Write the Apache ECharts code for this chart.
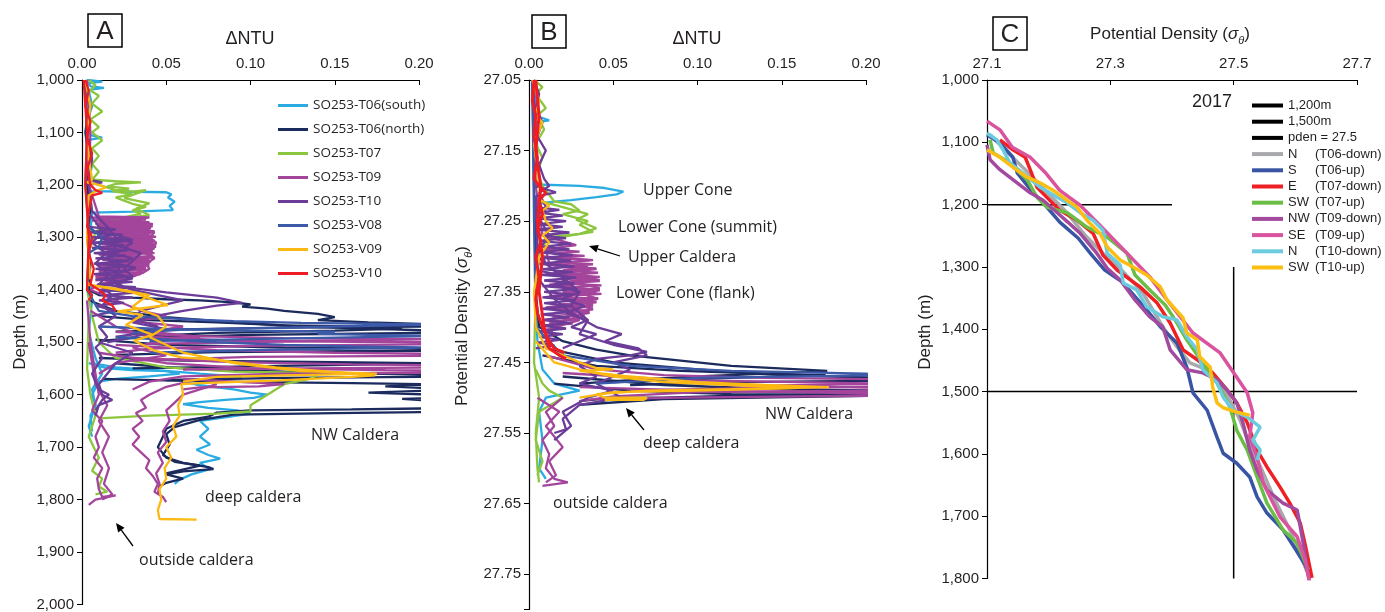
<!DOCTYPE html>
<html>
<head>
<meta charset="utf-8">
<script src="https://cdn.jsdelivr.net/npm/echarts@6/dist/echarts.min.js"></script>
<style>
  html, body { margin: 0; padding: 0; background: #fff; }
  #chart { width: 1385px; height: 612px; }
</style>
</head>
<body>
<div id="chart"></div>
<script>
// ---- panel A : dNTU vs depth (m) ----
const aT06s1 = [[0.003,1000],[0.012,1003],[0.004,1006],[0.005,1012],[0.013,1015],[0.004,1019],[0.006,1050],[0.003,1080],[0.005,1105],[0.012,1110],[0.004,1114],[0.006,1160],[0.004,1200],[0.005,1212],[0.05,1214],[0.053,1218],[0.051,1224],[0.055,1232],[0.052,1240],[0.054,1248],[0.03,1251],[0.006,1253],[0.005,1290],[0.004,1350],[0.006,1420],[0.004,1480],[0.008,1530],[0.012,1560],[0.006,1590],[0.008,1620],[0.004,1660],[0.006,1680]];
const aT06s2 = [[0.006,1540],[0.02,1548],[0.04,1552],[0.055,1556],[0.07,1560],[0.095,1566],[0.08,1570],[0.06,1575],[0.07,1582],[0.09,1590],[0.1,1596],[0.11,1600],[0.102,1606],[0.085,1610],[0.07,1614],[0.06,1618],[0.075,1625],[0.092,1630],[0.1,1636],[0.088,1642],[0.07,1650],[0.075,1665],[0.07,1680],[0.076,1695],[0.068,1705],[0.075,1715],[0.082,1722],[0.07,1730],[0.076,1742],[0.065,1752],[0.058,1762],[0.055,1770]];
const aT06s3 = [[0.004,1540],[0.015,1550],[0.03,1553],[0.05,1555],[0.058,1560],[0.04,1565],[0.02,1570],[0.01,1575],[0.006,1600],[0.008,1620],[0.005,1640],[0.006,1670]];
const aT06n1 = [[0.002,1000],[0.004,1050],[0.002,1100],[0.004,1150],[0.003,1200],[0.005,1250],[0.003,1300],[0.005,1350],[0.004,1400],[0.01,1410],[0.03,1415],[0.05,1418],[0.07,1420],[0.09,1424],[0.1,1428],[0.095,1432],[0.11,1436],[0.12,1440],[0.14,1446],[0.15,1452],[0.14,1458],[0.17,1462],[0.21,1466],[0.21,1470],[0.12,1472],[0.05,1476],[0.02,1480]];
const aT06n2 = [[0.004,1420],[0.02,1440],[0.05,1452],[0.09,1462],[0.13,1470],[0.17,1474],[0.21,1478],[0.21,1482],[0.1,1486],[0.03,1492],[0.01,1498]];
const aT06n3 = [[0.008,1495],[0.05,1505],[0.12,1510],[0.21,1512],[0.21,1516],[0.08,1519],[0.02,1524]];
const aT06n4 = [[0.01,1530],[0.06,1535],[0.15,1538],[0.21,1540],[0.21,1543],[0.1,1546],[0.03,1550]];
const aT06n5 = [[0.012,1570],[0.08,1575],[0.16,1578],[0.21,1580],[0.18,1584],[0.21,1588],[0.21,1592],[0.17,1596],[0.21,1600],[0.21,1606],[0.19,1608],[0.21,1612]];
const aT06n6 = [[0.21,1626],[0.16,1628],[0.1,1630],[0.08,1634],[0.075,1642],[0.06,1650],[0.05,1665],[0.048,1680],[0.045,1700],[0.05,1720],[0.06,1730],[0.075,1738],[0.078,1742],[0.06,1746],[0.05,1752],[0.06,1760],[0.05,1768],[0.046,1775]];
const aT06n7 = [[0.21,1633],[0.15,1635],[0.09,1638],[0.07,1648],[0.055,1662],[0.05,1675],[0.052,1695],[0.048,1715],[0.055,1728],[0.07,1735],[0.05,1750]];
const aT06n8 = [[0.01,1450],[0.04,1458],[0.08,1462],[0.12,1468],[0.16,1470],[0.19,1474],[0.15,1478],[0.08,1482],[0.04,1488]];
const aT06n9 = [[0.02,1540],[0.07,1552],[0.12,1556],[0.17,1560],[0.21,1562],[0.21,1566],[0.12,1568],[0.05,1572]];
const aT07a = [[0.004,1000],[0.008,1010],[0.005,1020],[0.01,1030],[0.006,1045],[0.012,1060],[0.005,1075],[0.01,1090],[0.006,1100],[0.012,1115],[0.006,1130],[0.01,1145],[0.006,1160],[0.01,1175],[0.006,1190],[0.02,1193],[0.035,1195],[0.02,1198],[0.015,1203],[0.028,1207],[0.018,1212],[0.03,1218],[0.02,1224],[0.025,1230],[0.03,1236],[0.038,1242],[0.03,1248],[0.035,1255],[0.025,1262],[0.015,1270],[0.008,1290],[0.005,1320]];
const aT07b = [[0.005,1190],[0.01,1200],[0.02,1210],[0.03,1213],[0.038,1210],[0.025,1225],[0.04,1235],[0.032,1245],[0.04,1258],[0.02,1264],[0.008,1275]];
const aT07c = [[0.004,1320],[0.003,1400],[0.006,1450],[0.01,1500],[0.02,1530],[0.05,1548],[0.09,1556],[0.13,1558],[0.14,1562],[0.135,1570],[0.12,1580],[0.115,1590],[0.11,1600],[0.105,1610],[0.1,1620],[0.1,1632],[0.08,1636],[0.04,1640],[0.01,1645]];
const aT07d = [[0.004,1450],[0.003,1550],[0.005,1600],[0.008,1640],[0.004,1680],[0.01,1720],[0.006,1745],[0.012,1760],[0.01,1775],[0.015,1785],[0.008,1790]];
const aT09a = [[0.003,1000],[0.005,1100],[0.004,1200],[0.01,1260],[0.04,1262],[0.03,1268],[0.042,1275],[0.035,1282],[0.043,1290],[0.04,1300],[0.044,1310],[0.042,1320],[0.04,1330],[0.043,1340],[0.038,1350],[0.04,1360],[0.036,1368],[0.03,1375],[0.02,1380],[0.01,1390],[0.005,1400]];
const aT09b = [[0.005,1262],[0.035,1266],[0.02,1270],[0.038,1276],[0.015,1280],[0.04,1286],[0.02,1292],[0.042,1300],[0.018,1306],[0.044,1314],[0.02,1320],[0.042,1328],[0.018,1336],[0.04,1344],[0.02,1352],[0.038,1360],[0.015,1366],[0.032,1372],[0.01,1378]];
const aT09c = [[0.008,1265],[0.03,1272],[0.01,1278],[0.036,1284],[0.012,1290],[0.04,1296],[0.012,1304],[0.042,1310],[0.015,1318],[0.041,1324],[0.015,1332],[0.04,1340],[0.015,1348],[0.036,1356],[0.012,1362],[0.03,1370],[0.008,1376]];
const aT09d = [[0.005,1440],[0.02,1470],[0.04,1490],[0.09,1497],[0.16,1499],[0.21,1500],[0.21,1504],[0.1,1507],[0.04,1512],[0.02,1520]];
const aT09e = [[0.01,1520],[0.05,1540],[0.1,1550],[0.18,1553],[0.21,1554],[0.21,1558],[0.12,1560],[0.06,1565],[0.04,1575],[0.03,1590]];
const aT09f = [[0.02,1505],[0.08,1515],[0.15,1520],[0.21,1522],[0.21,1526],[0.1,1528],[0.03,1535]];
const aT09g = [[0.005,1400],[0.02,1420],[0.035,1440],[0.05,1450],[0.03,1460],[0.06,1470],[0.04,1480],[0.07,1490],[0.05,1495],[0.03,1510],[0.05,1525],[0.02,1540],[0.01,1560]];
const aT09h = [[0.07,1570],[0.05,1585],[0.04,1600],[0.035,1610],[0.038,1625],[0.032,1635],[0.036,1650],[0.03,1665],[0.034,1680],[0.03,1695],[0.035,1710],[0.04,1725],[0.038,1740],[0.042,1755],[0.045,1770],[0.043,1785],[0.048,1795],[0.05,1805]];
const aT09i = [[0.08,1580],[0.07,1590],[0.06,1600],[0.055,1615],[0.05,1630],[0.052,1650],[0.048,1670],[0.05,1690],[0.045,1710],[0.048,1730],[0.044,1750],[0.046,1770],[0.045,1790]];
const aT09j = [[0.003,1420],[0.005,1500],[0.008,1560],[0.01,1600],[0.006,1630],[0.012,1650],[0.008,1680],[0.01,1700],[0.007,1720],[0.012,1740],[0.009,1760],[0.01,1780],[0.012,1795],[0.02,1792],[0.008,1800],[0.004,1810]];
const aT09k = [[0.004,1500],[0.008,1580],[0.015,1620],[0.01,1650],[0.016,1680],[0.012,1710],[0.016,1740],[0.013,1770],[0.018,1790],[0.012,1800]];
const aT09l = [[0.006,1268],[0.04,1271],[0.008,1274],[0.042,1279],[0.01,1283],[0.043,1288],[0.01,1294],[0.044,1299],[0.012,1303],[0.043,1308],[0.01,1313],[0.044,1318],[0.012,1323],[0.042,1327],[0.01,1333],[0.043,1338],[0.012,1343],[0.04,1348],[0.01,1354],[0.038,1358],[0.01,1364],[0.034,1368],[0.008,1374]];
const aT09m = [[0.01,1270],[0.038,1280],[0.025,1285],[0.041,1292],[0.03,1297],[0.042,1305],[0.03,1312],[0.043,1320],[0.032,1326],[0.041,1334],[0.03,1342],[0.04,1350],[0.028,1358],[0.036,1366],[0.02,1372]];
const aT09n = [[0.02,1480],[0.06,1488],[0.12,1492],[0.21,1494],[0.21,1497],[0.11,1499],[0.04,1503]];
const aT09o = [[0.03,1530],[0.09,1538],[0.16,1542],[0.21,1544],[0.21,1548],[0.13,1550],[0.06,1552]];
const aT09p = [[0.06,1570],[0.09,1575],[0.12,1580],[0.105,1584],[0.07,1586],[0.06,1590]];
const aT09q = [[0.008,1262],[0.038,1266],[0.01,1270],[0.04,1274],[0.012,1278],[0.041,1282],[0.012,1286],[0.042,1290],[0.014,1294],[0.043,1298],[0.013,1302],[0.043,1306],[0.015,1310],[0.044,1314],[0.014,1318],[0.043,1322],[0.015,1326],[0.043,1330],[0.014,1334],[0.042,1338],[0.013,1342],[0.041,1346],[0.012,1350],[0.04,1354],[0.012,1358],[0.038,1362],[0.01,1366],[0.035,1370],[0.009,1374],[0.03,1378],[0.008,1382]];
const aT10a = [[0.002,1000],[0.005,1050],[0.003,1100],[0.006,1150],[0.004,1190],[0.012,1195],[0.004,1200],[0.006,1250],[0.015,1280],[0.02,1300],[0.03,1310],[0.025,1320],[0.035,1330],[0.03,1345],[0.025,1360],[0.03,1375],[0.02,1390],[0.03,1400],[0.045,1410],[0.06,1420],[0.05,1428],[0.035,1440],[0.03,1455],[0.045,1470],[0.04,1480],[0.02,1490]];
const aT10b = [[0.004,1280],[0.012,1300],[0.02,1320],[0.015,1340],[0.022,1360],[0.018,1380],[0.025,1395],[0.05,1405],[0.08,1415],[0.095,1425],[0.08,1430],[0.06,1440],[0.04,1452],[0.03,1462],[0.05,1475],[0.03,1490],[0.015,1500]];
const aT10c = [[0.01,1500],[0.03,1520],[0.02,1540],[0.015,1560],[0.01,1580],[0.012,1600],[0.018,1610],[0.01,1620],[0.008,1640]];
const aT10d = [[0.004,1290],[0.02,1295],[0.03,1305],[0.015,1312],[0.028,1322],[0.018,1330],[0.03,1340],[0.02,1350],[0.032,1358],[0.02,1368],[0.03,1378],[0.015,1388],[0.025,1398],[0.01,1405]];
const aT10e = [[0.003,1250],[0.008,1270],[0.012,1290],[0.006,1310],[0.014,1330],[0.008,1350],[0.016,1370],[0.01,1390],[0.018,1410],[0.012,1430],[0.02,1450],[0.01,1470],[0.015,1490],[0.008,1510],[0.012,1530],[0.006,1560],[0.01,1590],[0.016,1600],[0.012,1610],[0.008,1630]];
const aT10f = [[0.004,1280],[0.02,1285],[0.005,1290],[0.024,1295],[0.006,1300],[0.026,1305],[0.007,1310],[0.025,1315],[0.006,1320],[0.027,1325],[0.007,1330],[0.026,1335],[0.008,1340],[0.028,1345],[0.007,1350],[0.027,1355],[0.008,1360],[0.026,1365],[0.007,1370],[0.028,1375],[0.008,1380],[0.03,1385],[0.009,1390],[0.032,1395],[0.01,1400],[0.035,1405],[0.012,1410],[0.03,1415],[0.01,1420],[0.025,1425],[0.008,1430],[0.02,1440],[0.006,1450]];
const aV08a = [[0.002,1000],[0.003,1100],[0.002,1200],[0.004,1280],[0.012,1300],[0.01,1318],[0.004,1330],[0.003,1400],[0.01,1440],[0.03,1450],[0.06,1456],[0.09,1460],[0.13,1463],[0.18,1465],[0.21,1466],[0.21,1469],[0.12,1472],[0.06,1476],[0.03,1482]];
const aV08b = [[0.01,1470],[0.05,1475],[0.1,1478],[0.15,1480],[0.14,1484],[0.17,1486],[0.21,1488],[0.21,1491],[0.1,1494],[0.04,1498]];
const aV08c = [[0.02,1490],[0.08,1500],[0.12,1505],[0.16,1508],[0.21,1510],[0.21,1513],[0.1,1515],[0.04,1520]];
const aV09a = [[0.002,1000],[0.005,1050],[0.003,1100],[0.004,1150],[0.006,1190],[0.003,1195],[0.01,1200],[0.014,1205],[0.008,1212],[0.004,1220],[0.003,1300],[0.005,1380]];
const aV09b = [[0.003,1385],[0.005,1391],[0.03,1405],[0.051,1429],[0.021,1441],[0.036,1448],[0.026,1467],[0.042,1486],[0.031,1497],[0.043,1516],[0.059,1529],[0.079,1533],[0.115,1548],[0.174,1563],[0.16,1566],[0.115,1573],[0.07,1578],[0.059,1580],[0.06,1600],[0.057,1620],[0.058,1640],[0.054,1660],[0.056,1680],[0.05,1700],[0.053,1720],[0.049,1740],[0.05,1760],[0.046,1780],[0.047,1800],[0.045,1820],[0.046,1837],[0.068,1838]];
const aV09c = [[0.003,1390],[0.02,1398],[0.04,1410],[0.035,1420],[0.03,1432],[0.045,1450],[0.05,1470],[0.04,1490],[0.06,1520],[0.09,1540],[0.13,1555],[0.175,1560],[0.12,1563],[0.08,1566],[0.06,1575]];
const aV10a = [[0.002,1000],[0.004,1020],[0.002,1050],[0.005,1080],[0.003,1110],[0.006,1140],[0.003,1170],[0.005,1200],[0.008,1210],[0.012,1215],[0.006,1220],[0.004,1250],[0.003,1280],[0.006,1300],[0.004,1330],[0.007,1360],[0.005,1390],[0.01,1400],[0.014,1410],[0.012,1420],[0.018,1430],[0.02,1440]];
const aV10b = [[0.001,1000],[0.003,1100],[0.002,1200],[0.004,1300],[0.003,1400],[0.006,1410],[0.004,1420]];

// ---- panel B : dNTU vs potential density ----
const bT06s1 = [[0.002,27.05],[0.004,27.08],[0.003,27.1],[0.012,27.107],[0.004,27.11],[0.005,27.15],[0.003,27.19],[0.005,27.198],[0.03,27.2],[0.045,27.203],[0.056,27.208],[0.052,27.212],[0.04,27.216],[0.025,27.22],[0.012,27.223],[0.005,27.226],[0.004,27.26],[0.006,27.3],[0.004,27.36],[0.005,27.42],[0.008,27.46],[0.015,27.48],[0.03,27.49],[0.01,27.5],[0.006,27.52],[0.008,27.56],[0.006,27.6],[0.01,27.615]];
const bT06n1 = [[0.002,27.05],[0.003,27.2],[0.004,27.35],[0.006,27.4],[0.02,27.42],[0.04,27.432],[0.06,27.44],[0.08,27.445],[0.12,27.455],[0.16,27.46],[0.177,27.462],[0.14,27.466],[0.1,27.47],[0.06,27.475],[0.03,27.48]];
const bT06n2 = [[0.01,27.43],[0.05,27.45],[0.1,27.46],[0.15,27.468],[0.21,27.472],[0.21,27.476],[0.12,27.478],[0.06,27.482]];
const bT06n3 = [[0.02,27.47],[0.08,27.482],[0.15,27.488],[0.21,27.49],[0.21,27.494],[0.14,27.496],[0.079,27.5],[0.05,27.5],[0.03,27.505]];
const bT06n4 = [[0.015,27.48],[0.06,27.49],[0.12,27.495],[0.21,27.497],[0.21,27.499],[0.08,27.502],[0.03,27.51]];
const bT06n5 = [[0.008,27.44],[0.04,27.455],[0.09,27.462],[0.14,27.466],[0.176,27.468],[0.12,27.472],[0.05,27.478]];
const bT07a = [[0.003,27.05],[0.008,27.06],[0.004,27.07],[0.01,27.09],[0.005,27.1],[0.009,27.12],[0.004,27.14],[0.008,27.16],[0.005,27.18],[0.008,27.2],[0.015,27.222],[0.025,27.226],[0.03,27.235],[0.02,27.24],[0.035,27.25],[0.03,27.255],[0.038,27.265],[0.025,27.27],[0.012,27.275],[0.006,27.29],[0.004,27.35],[0.003,27.45],[0.006,27.5],[0.004,27.55],[0.005,27.6],[0.006,27.62]];
const bT07b = [[0.005,27.22],[0.02,27.23],[0.035,27.24],[0.028,27.248],[0.04,27.26],[0.03,27.268],[0.015,27.272],[0.006,27.28]];
const bT07c = [[0.004,27.46],[0.008,27.48],[0.012,27.49],[0.02,27.5],[0.006,27.52],[0.004,27.56],[0.008,27.59],[0.005,27.61]];
const bT09a = [[0.003,27.05],[0.004,27.2],[0.008,27.27],[0.028,27.284],[0.01,27.29],[0.012,27.31],[0.035,27.315],[0.02,27.32],[0.04,27.33],[0.025,27.335],[0.042,27.345],[0.028,27.35],[0.041,27.36],[0.025,27.365],[0.038,27.375],[0.022,27.38],[0.03,27.39],[0.015,27.4],[0.01,27.42]];
const bT09b = [[0.006,27.31],[0.03,27.318],[0.015,27.323],[0.037,27.33],[0.018,27.338],[0.04,27.35],[0.02,27.355],[0.038,27.368],[0.018,27.374],[0.032,27.385],[0.012,27.395]];
const bT09c = [[0.01,27.44],[0.04,27.46],[0.08,27.468],[0.14,27.472],[0.21,27.474],[0.21,27.48],[0.14,27.483],[0.21,27.486],[0.21,27.49],[0.1,27.492],[0.05,27.498],[0.03,27.505]];
const bT09d = [[0.02,27.5],[0.01,27.52],[0.015,27.54],[0.008,27.56],[0.012,27.58],[0.01,27.6],[0.015,27.615],[0.023,27.62],[0.008,27.625]];
const bT09e = [[0.005,27.5],[0.018,27.52],[0.01,27.54],[0.02,27.57],[0.012,27.59],[0.016,27.61],[0.01,27.62]];
const bT09f = [[0.008,27.3],[0.038,27.305],[0.012,27.31],[0.04,27.318],[0.01,27.325],[0.042,27.333],[0.012,27.34],[0.042,27.348],[0.012,27.356],[0.04,27.364],[0.01,27.372],[0.036,27.38],[0.008,27.39]];
const bT09g = [[0.02,27.465],[0.09,27.475],[0.16,27.478],[0.21,27.48],[0.21,27.484],[0.12,27.487],[0.06,27.49]];
const bT09h = [[0.03,27.485],[0.1,27.49],[0.18,27.493],[0.21,27.494],[0.21,27.497],[0.09,27.5],[0.04,27.502]];
const bT09i = [[0.01,27.29],[0.03,27.293],[0.014,27.296],[0.033,27.299],[0.015,27.302],[0.036,27.305],[0.016,27.308],[0.038,27.311],[0.018,27.314],[0.04,27.317],[0.02,27.32],[0.041,27.323],[0.02,27.326],[0.042,27.329],[0.022,27.332],[0.042,27.335],[0.02,27.338],[0.043,27.341],[0.022,27.344],[0.042,27.347],[0.02,27.35],[0.043,27.353],[0.022,27.356],[0.041,27.359],[0.02,27.362],[0.04,27.365],[0.018,27.368],[0.038,27.371],[0.017,27.374],[0.036,27.377],[0.015,27.38],[0.033,27.383],[0.014,27.386],[0.03,27.389],[0.012,27.392],[0.026,27.395],[0.01,27.398],[0.02,27.401],[0.008,27.404]];
const bT10a = [[0.002,27.05],[0.004,27.12],[0.003,27.2],[0.016,27.209],[0.004,27.215],[0.005,27.3],[0.02,27.33],[0.03,27.35],[0.025,27.37],[0.035,27.39],[0.03,27.41],[0.05,27.425],[0.07,27.435],[0.06,27.44],[0.04,27.445],[0.03,27.455],[0.04,27.47],[0.03,27.48],[0.05,27.49],[0.035,27.5],[0.02,27.52],[0.025,27.54],[0.015,27.56]];
const bT10b = [[0.005,27.33],[0.015,27.36],[0.025,27.38],[0.04,27.4],[0.055,27.41],[0.045,27.42],[0.065,27.43],[0.07,27.44],[0.05,27.45],[0.06,27.46],[0.04,27.48],[0.055,27.5],[0.03,27.51],[0.02,27.53],[0.022,27.545],[0.015,27.55]];
const bT10c = [[0.003,27.05],[0.006,27.07],[0.004,27.09],[0.008,27.11],[0.005,27.13],[0.01,27.15],[0.006,27.17],[0.009,27.19],[0.012,27.2],[0.006,27.21],[0.01,27.23],[0.007,27.25],[0.012,27.27],[0.006,27.29],[0.01,27.31]];
const bT10d = [[0.006,27.32],[0.025,27.33],[0.015,27.34],[0.03,27.35],[0.02,27.36],[0.033,27.37],[0.022,27.38],[0.035,27.39],[0.025,27.4],[0.04,27.41],[0.03,27.42],[0.02,27.43]];
const bT10e = [[0.004,27.23],[0.018,27.234],[0.006,27.238],[0.02,27.242],[0.005,27.246],[0.022,27.25],[0.006,27.254],[0.02,27.258],[0.005,27.262],[0.024,27.266],[0.007,27.27],[0.022,27.274],[0.006,27.278],[0.025,27.282],[0.008,27.286],[0.024,27.29],[0.006,27.294],[0.026,27.298],[0.008,27.302],[0.025,27.306],[0.007,27.31],[0.027,27.314],[0.008,27.318],[0.026,27.322],[0.007,27.326],[0.028,27.33],[0.009,27.334],[0.027,27.338],[0.008,27.342],[0.028,27.346],[0.009,27.35],[0.026,27.354],[0.008,27.358],[0.027,27.362],[0.009,27.366],[0.025,27.37],[0.008,27.374],[0.026,27.378],[0.007,27.382],[0.024,27.386],[0.008,27.39],[0.025,27.394],[0.007,27.398],[0.022,27.402],[0.006,27.406],[0.02,27.41],[0.006,27.414],[0.018,27.418],[0.005,27.422],[0.015,27.426],[0.004,27.43]];
const bV08a = [[0.002,27.05],[0.003,27.25],[0.004,27.4],[0.02,27.44],[0.06,27.455],[0.12,27.462],[0.2,27.466],[0.21,27.468],[0.1,27.472],[0.04,27.48]];
const bV09a = [[0.002,27.05],[0.006,27.08],[0.004,27.1],[0.008,27.11],[0.003,27.14],[0.005,27.18],[0.007,27.22],[0.012,27.228],[0.008,27.235],[0.01,27.25],[0.014,27.26],[0.008,27.27],[0.012,27.28],[0.006,27.3],[0.003,27.35],[0.004,27.4],[0.01,27.43],[0.03,27.45],[0.04,27.458],[0.05,27.46],[0.03,27.462],[0.06,27.47],[0.1,27.478],[0.14,27.482],[0.178,27.485],[0.12,27.488],[0.07,27.49],[0.04,27.495],[0.045,27.5],[0.07,27.5],[0.068,27.503],[0.045,27.503]];
const bV09b = [[0.004,27.42],[0.015,27.45],[0.03,27.46],[0.05,27.47],[0.08,27.478],[0.12,27.482],[0.16,27.486],[0.1,27.49],[0.05,27.492],[0.03,27.5]];
const bV10a = [[0.003,27.05],[0.002,27.08],[0.004,27.1],[0.003,27.13],[0.005,27.16],[0.003,27.19],[0.006,27.2],[0.01,27.21],[0.006,27.22],[0.008,27.24],[0.005,27.26],[0.007,27.28],[0.004,27.3],[0.006,27.33],[0.004,27.36],[0.005,27.38],[0.008,27.4],[0.01,27.41],[0.012,27.42],[0.015,27.43],[0.02,27.435],[0.021,27.437]];
const bV10b = [[0.004,27.05],[0.006,27.1],[0.004,27.15],[0.007,27.2],[0.005,27.25],[0.008,27.3],[0.006,27.35],[0.009,27.4],[0.012,27.43],[0.018,27.44],[0.022,27.445]];

// ---- panel C : potential density vs depth (m), 2017 ----
const cT06down = [[27.105,1088],[27.129,1112],[27.162,1144],[27.194,1177],[27.226,1209],[27.259,1249],[27.288,1278],[27.311,1297],[27.353,1342],[27.385,1396],[27.408,1428],[27.429,1454],[27.457,1465],[27.478,1486],[27.494,1514],[27.51,1545],[27.526,1586],[27.546,1626],[27.567,1674],[27.591,1722],[27.608,1762],[27.621,1794]];
const cT06up = [[27.1,1088],[27.121,1101],[27.142,1124],[27.149,1149],[27.175,1181],[27.197,1204],[27.218,1228],[27.248,1254],[27.27,1281],[27.291,1305],[27.319,1324],[27.359,1369],[27.381,1396],[27.408,1422],[27.424,1461],[27.434,1502],[27.457,1530],[27.473,1573],[27.483,1599],[27.505,1615],[27.526,1637],[27.538,1669],[27.554,1695],[27.58,1722],[27.599,1751],[27.616,1778],[27.624,1799]];
const cT07down = [[27.121,1096],[27.142,1112],[27.162,1124],[27.17,1144],[27.181,1172],[27.197,1188],[27.218,1209],[27.246,1225],[27.272,1246],[27.288,1281],[27.311,1305],[27.348,1332],[27.376,1358],[27.397,1390],[27.418,1433],[27.441,1449],[27.466,1470],[27.489,1497],[27.505,1518],[27.522,1550],[27.538,1594],[27.554,1621],[27.575,1653],[27.591,1679],[27.608,1711],[27.616,1746],[27.627,1799]];
const cT07up = [[27.105,1096],[27.11,1117],[27.137,1133],[27.165,1160],[27.181,1188],[27.197,1204],[27.23,1213],[27.262,1236],[27.295,1252],[27.327,1278],[27.34,1313],[27.364,1337],[27.389,1361],[27.405,1385],[27.424,1417],[27.45,1454],[27.473,1486],[27.494,1525],[27.505,1562],[27.522,1594],[27.538,1637],[27.554,1679],[27.58,1722],[27.603,1743],[27.621,1786]];
const cT09down = [[27.1,1104],[27.105,1128],[27.121,1144],[27.142,1160],[27.17,1181],[27.191,1193],[27.214,1213],[27.231,1228],[27.251,1246],[27.278,1278],[27.295,1302],[27.316,1321],[27.34,1353],[27.364,1380],[27.385,1396],[27.397,1433],[27.424,1465],[27.45,1470],[27.473,1481],[27.489,1497],[27.505,1518],[27.515,1550],[27.526,1594],[27.538,1626],[27.554,1658],[27.58,1679],[27.603,1690],[27.608,1717],[27.616,1762],[27.624,1815]];
const cT09up = [[27.1,1066],[27.121,1080],[27.141,1108],[27.17,1124],[27.194,1148],[27.218,1177],[27.251,1201],[27.283,1233],[27.327,1278],[27.364,1316],[27.392,1353],[27.434,1406],[27.478,1438],[27.505,1477],[27.522,1502],[27.531,1534],[27.526,1573],[27.538,1605],[27.548,1647],[27.575,1701],[27.603,1733],[27.616,1770],[27.624,1810]];
const cT10down = [[27.1,1085],[27.116,1096],[27.126,1112],[27.137,1133],[27.158,1149],[27.186,1172],[27.214,1188],[27.23,1197],[27.251,1213],[27.272,1225],[27.288,1241],[27.295,1278],[27.316,1297],[27.321,1326],[27.343,1337],[27.359,1364],[27.385,1380],[27.408,1385],[27.424,1412],[27.441,1433],[27.45,1465],[27.473,1486],[27.483,1509],[27.499,1530],[27.522,1541],[27.543,1557],[27.531,1578],[27.543,1594],[27.538,1610]];
const cT10up = [[27.1,1112],[27.121,1124],[27.142,1140],[27.165,1156],[27.186,1165],[27.207,1177],[27.23,1193],[27.246,1204],[27.262,1225],[27.283,1246],[27.295,1268],[27.316,1289],[27.337,1300],[27.359,1313],[27.381,1332],[27.392,1353],[27.418,1382],[27.424,1406],[27.441,1417],[27.445,1444],[27.462,1461],[27.466,1493],[27.473,1518],[27.483,1526],[27.505,1533],[27.526,1538]];
const cRef1200 = [[27.1,1200],[27.4,1200]];
const cRef1500 = [[27.1,1500],[27.7,1500]];
const cRefPden = [[27.5,1300],[27.5,1800]];

const stations = ['SO253-T06(south)','SO253-T06(north)','SO253-T07','SO253-T09','SO253-T10','SO253-V08','SO253-V09','SO253-V10'];
const stationColors = ['#2AACE2','#1C2B5E','#8CC63F','#A4459C','#6B3C98','#3D5AA9','#FDB913','#EE1D25'];
const castNames = ['1,200m','1,500m','pden = 27.5','N|(T06-down)','S|(T06-up)','E|(T07-down)','SW|(T07-up)','NW|(T09-down)','SE|(T09-up)','N|(T10-down)','SW|(T10-up)'];
const castColors = ['#000','#000','#000','#A7A9AC','#3A54A4','#EE2024','#6ABD45','#A24A9E','#D9539E','#6DCBE0','#FDBE14'];

const FONT = '"Liberation Sans", Arial, sans-serif';
const HUM = '"Open Sans", "Noto Sans", sans-serif';
const INK = '#231F20';

const B0 = 27.05, C0 = 27.1;
const series = [];

function prof(name, color, data, idx, width) {
  series.push({
    type: 'line', name: name, data: data, xAxisIndex: idx, yAxisIndex: idx,
    symbol: 'none', clip: true, silent: true,
    lineStyle: { color: color, width: width }, itemStyle: { color: color }
  });
}

const aSets = [[aT06s1,aT06s2,aT06s3],[aT06n1,aT06n2,aT06n3,aT06n4,aT06n5,aT06n6,aT06n7,aT06n8,aT06n9],[aT07a,aT07b,aT07c,aT07d],
  [aT09a,aT09b,aT09c,aT09l,aT09m,aT09q,aT09d,aT09e,aT09f,aT09g,aT09h,aT09i,aT09j,aT09k,aT09n,aT09o,aT09p],[aT10a,aT10b,aT10c,aT10d,aT10e,aT10f],[aV08a,aV08b,aV08c],[aV09a,aV09b,aV09c],[aV10a,aV10b]];
const bSets = [[bT06s1],[bT06n1,bT06n2,bT06n3,bT06n4,bT06n5],[bT07a,bT07b,bT07c],[bT09a,bT09b,bT09c,bT09d,bT09e,bT09f,bT09g,bT09h,bT09i],[bT10a,bT10b,bT10c,bT10d,bT10e],[bV08a],[bV09a,bV09b],[bV10a,bV10b]];
aSets.forEach((set, i) => set.forEach(d => prof(stations[i], stationColors[i], d, 0, 2.3)));
bSets.forEach((set, i) => set.forEach(d => prof(stations[i], stationColors[i], d.map(p => [p[0], p[1] - B0]), 1, i === 7 ? 3 : 2.3)));

const cSets = [cRef1200, cRef1500, cRefPden, cT06down, cT06up, cT07down, cT07up, cT09down, cT09up, cT10down, cT10up];
cSets.forEach((d, i) => prof(castNames[i], castColors[i], d.map(p => [p[0] - C0, p[1]]), 2, i < 3 ? 1.5 : 3.5));

function comma(v) { return Math.round(v).toLocaleString('en-US'); }

function xAx(idx, max, fmt) {
  return {
    gridIndex: idx, type: 'value', position: 'top', min: 0, max: max, interval: idx === 2 ? 0.2 : 0.05,
    axisLine: { show: true, onZero: false, lineStyle: { color: '#000', width: 1.2 } },
    axisTick: { show: true, inside: true, length: 5, lineStyle: { color: '#000' } },
    axisLabel: { formatter: fmt, fontSize: 15, fontFamily: FONT, color: INK, margin: 9 },
    splitLine: { show: false }
  };
}
function yAx(idx, min, max, fmt) {
  return {
    gridIndex: idx, type: 'value', inverse: true, min: min, max: max, interval: idx === 1 ? 0.1 : 100,
    axisLine: { show: true, onZero: false, lineStyle: { color: '#000', width: 1.2 } },
    axisTick: { show: true, inside: false, length: 5, lineStyle: { color: '#000' } },
    axisLabel: { formatter: fmt, fontSize: 15, fontFamily: FONT, color: INK, margin: 8 },
    splitLine: { show: false }
  };
}

function txt(x, y, s, size, opts) {
  return Object.assign({ type: 'text', x: x, y: y, silent: true,
    style: { text: s, fontSize: size, fontFamily: HUM, fill: INK, align: 'left', verticalAlign: 'middle' } }, opts || {});
}
function box(x, y, letter) {
  return [
    { type: 'rect', shape: { x: x, y: y, width: 34, height: 33 }, style: { fill: 'none', stroke: '#000', lineWidth: 1.5 }, silent: true },
    { type: 'text', x: x + 17, y: y + 17.5, silent: true, style: { text: letter, fontSize: 26, fontFamily: FONT, fill: INK, align: 'center', verticalAlign: 'middle' } }
  ];
}
function arrow(tx, ty, hx, hy) {
  const a = Math.atan2(hy - ty, hx - tx), L = 9, W = 4;
  const bx = hx - L * Math.cos(a), by = hy - L * Math.sin(a);
  const px = -Math.sin(a) * W, py = Math.cos(a) * W;
  return [
    { type: 'line', silent: true, shape: { x1: tx, y1: ty, x2: bx, y2: by }, style: { stroke: '#000', lineWidth: 1.3 } },
    { type: 'polygon', silent: true, shape: { points: [[hx, hy], [bx + px, by + py], [bx - px, by - py]] }, style: { fill: '#000' } }
  ];
}
const sigmaRich = {
  n: { fontSize: 17, fontFamily: FONT, fill: INK, lineHeight: 24 },
  g: { fontSize: 17, fontFamily: FONT, fontStyle: 'italic', fill: INK, lineHeight: 24 },
  s: { fontSize: 11, fontFamily: FONT, fontStyle: 'italic', fill: INK, lineHeight: 11, verticalAlign: 'bottom' }
};
const sigmaTitle = '{n|Potential Density (}{g|σ}{s|θ}{n|)}';

const graphic = [].concat(
  box(88, 14, 'A'), box(532, 15, 'B'), box(993, 17, 'C'),
  [
    { type: 'text', x: 250, y: 39, silent: true, style: { text: 'ΔNTU', fontSize: 18, fontFamily: FONT, fill: INK, align: 'center', verticalAlign: 'middle' } },
    { type: 'text', x: 697, y: 39, silent: true, style: { text: 'ΔNTU', fontSize: 18, fontFamily: FONT, fill: INK, align: 'center', verticalAlign: 'middle' } },
    { type: 'text', x: 1170, y: 34, silent: true, style: { text: sigmaTitle, rich: sigmaRich, align: 'center', verticalAlign: 'middle' } },
    { type: 'text', x: 20, y: 332, rotation: Math.PI / 2, silent: true, style: { text: 'Depth (m)', fontSize: 17, fontFamily: FONT, fill: INK, align: 'center', verticalAlign: 'middle' } },
    { type: 'text', x: 925, y: 332, rotation: Math.PI / 2, silent: true, style: { text: 'Depth (m)', fontSize: 17, fontFamily: FONT, fill: INK, align: 'center', verticalAlign: 'middle' } },
    { type: 'text', x: 462, y: 326, rotation: Math.PI / 2, silent: true, style: { text: sigmaTitle, rich: sigmaRich, align: 'center', verticalAlign: 'middle' } },
    { type: 'text', x: 1212, y: 102, silent: true, style: { text: '2017', fontSize: 18, fontFamily: FONT, fill: INK, align: 'center', verticalAlign: 'middle' } },
    txt(311, 435, 'NW Caldera', 16), txt(205, 497, 'deep caldera', 16), txt(139, 560, 'outside caldera', 16),
    txt(643, 190, 'Upper Cone', 16), txt(618, 227, 'Lower Cone (summit)', 16), txt(628, 257, 'Upper Caldera', 16),
    txt(616, 293, 'Lower Cone (flank)', 16), txt(765, 414, 'NW Caldera', 16), txt(643, 443, 'deep caldera', 16),
    txt(553, 503, 'outside caldera', 16)
  ],
  arrow(133, 546, 116, 523), arrow(620, 256, 589, 246), arrow(644, 430, 626, 408)
);

const chart = echarts.init(document.getElementById('chart'), null, { renderer: 'canvas' });
chart.setOption({
  animation: false,
  backgroundColor: '#fff',
  grid: [
    { left: 82, top: 80, width: 337, height: 529 },
    { left: 529, top: 80, width: 337, height: 529.5 },
    { left: 987, top: 80, width: 370, height: 498.5 }
  ],
  xAxis: [
    xAx(0, 0.2, v => v.toFixed(2)),
    xAx(1, 0.2, v => v.toFixed(2)),
    xAx(2, 0.6, v => (C0 + v).toFixed(1))
  ],
  yAxis: [
    yAx(0, 1000, 2000, comma),
    yAx(1, 0, 0.75, v => v > 0.72 ? '' : (B0 + v).toFixed(2)),
    yAx(2, 1000, 1800, comma)
  ],
  legend: [
    {
      data: stations, orient: 'vertical', left: 273, top: 93, icon: 'rect',
      itemWidth: 30, itemHeight: 3, itemGap: 9, selectedMode: false,
      textStyle: { fontSize: 13.5, fontFamily: HUM, color: INK, lineHeight: 15 }
    },
    {
      data: castNames, orient: 'vertical', left: 1247, top: 93, icon: 'rect',
      itemWidth: 31, itemHeight: 4, itemGap: 1.2, selectedMode: false,
      formatter: function (name) {
        const p = name.split('|');
        return p.length > 1 ? '{a|' + p[0] + '}{b|' + p[1] + '}' : '{c|' + name + '}';
      },
      textStyle: {
        fontSize: 13, fontFamily: FONT, color: INK, lineHeight: 15,
        rich: { a: { width: 27, fontSize: 13, fontFamily: FONT, color: INK }, b: { fontSize: 13, fontFamily: FONT, color: INK }, c: { fontSize: 13, fontFamily: FONT, color: INK } }
      }
    }
  ],
  graphic: graphic,
  series: series
});
</script>
</body>
</html>
